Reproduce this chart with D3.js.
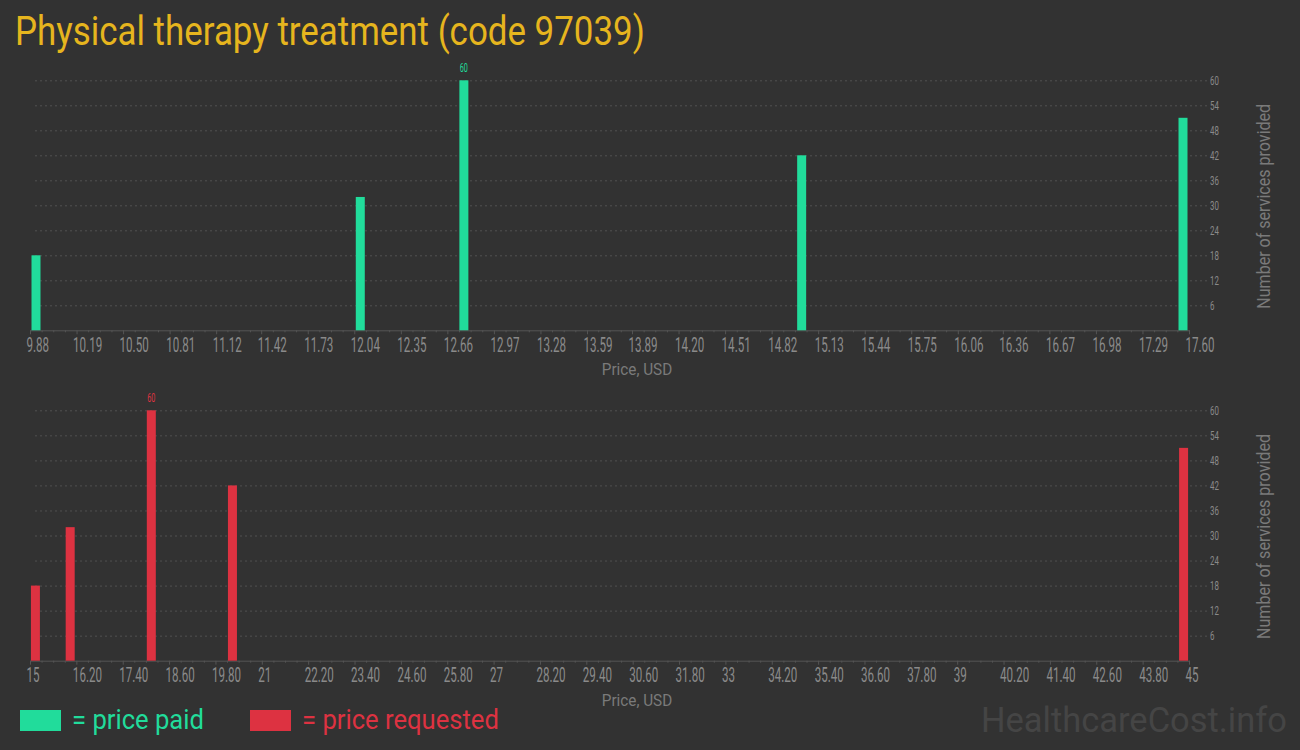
<!DOCTYPE html>
<html>
<head>
<meta charset="utf-8">
<script src="https://cdn.jsdelivr.net/npm/d3@7"></script>
<style>
  html, body { margin: 0; padding: 0; background: #323232; }
  svg { display: block; }
  text { font-family: Roboto, "Noto Sans", sans-serif; }
</style>
</head>
<body>
<svg id="chart" width="1300" height="750"></svg>
<script>
// ---------- data ----------
const chartTitle = "Physical therapy treatment (code 97039)";
const paidPrices = [9.92, 12.08, 12.77, 15.02, 17.56];
const paidCounts = [18, 32, 60, 42, 51];
const requestedPrices = [15.14, 16.04, 18.14, 20.24, 44.86];
const requestedCounts = [18, 32, 60, 42, 51];
const paidTickLabels = ["9.88","10.19","10.50","10.81","11.12","11.42","11.73","12.04","12.35","12.66","12.97","13.28","13.59","13.89","14.20","14.51","14.82","15.13","15.44","15.75","16.06","16.36","16.67","16.98","17.29","17.60"];
const requestedTickLabels = ["15","16.20","17.40","18.60","19.80","21","22.20","23.40","24.60","25.80","27","28.20","29.40","30.60","31.80","33","34.20","35.40","36.60","37.80","39","40.20","41.40","42.60","43.80","45"];
const countTicks = [6, 12, 18, 24, 30, 36, 42, 48, 54, 60];
const xTitle = "Price, USD";
const yTitle = "Number of services provided";
const legendLabels = ["= price paid", "= price requested"];
const watermark = "HealthcareCost.info";

// ---------- styles ----------
const GREEN = "#21dc9b", RED = "#dd3241", GOLD = "#e6b51e";
const AXIS = "#555", GRID = "#505050", TICKTXT = "#8a8a8a", TITLETXT = "#7a7a7a";

const svg = d3.select("#chart");
svg.append("rect").attr("width", 1300).attr("height", 750).attr("fill", "#323232");

// horizontally condense text with a scale transform (keeps x position)
function condense(sel, factor) {
  sel.each(function () {
    const t = d3.select(this);
    const x = +(t.attr("x") || 0);
    t.attr("x", x / factor).attr("transform", `scale(${factor},1)`);
  });
}
function fitWidth(sel, target) {
  sel.each(function () {
    const w = this.getComputedTextLength();
    condense(d3.select(this), target / w);
  });
}

fitWidth(svg.append("text").attr("x", 15).attr("y", 45)
  .attr("fill", GOLD).attr("font-size", 41).text(chartTitle), 630);

function panel(prices, counts, tickLabels, color, y0, y60) {
  const tickVals = tickLabels.map(Number);
  const x = d3.scaleLinear().domain([tickVals[0], tickVals[tickVals.length - 1]]).range([30, 1189]);
  const y = d3.scaleLinear().domain([0, 60]).range([y0, y60]);
  const g = svg.append("g");

  // grid + right labels
  const yAxis = d3.axisRight(y).tickValues(countTicks).tickSize(-1175).tickPadding(3);
  const ga = g.append("g").attr("transform", `translate(1207,0)`).call(yAxis);
  ga.select(".domain").remove();
  ga.selectAll(".tick line").attr("stroke", GRID).attr("stroke-dasharray", "2,3");
  ga.selectAll(".tick text").attr("fill", TICKTXT).attr("font-size", 12.5).attr("font-family", "Roboto");
  condense(ga.selectAll(".tick text"), 0.63);

  // minor ticks
  const minor = [];
  for (let i = 0; i < tickVals.length - 1; i++)
    for (let k = 1; k < 4; k++) minor.push(tickVals[i] + (tickVals[i + 1] - tickVals[i]) * k / 4);
  const gm = g.append("g").attr("transform", `translate(0,${y0})`)
    .call(d3.axisBottom(x).tickValues(minor).tickSize(2).tickFormat(""));
  gm.select(".domain").remove();
  gm.selectAll(".tick line").attr("stroke", AXIS);

  // major axis
  const gx = g.append("g").attr("transform", `translate(0,${y0})`)
    .call(d3.axisBottom(x).tickValues(tickVals).tickSize(4).tickPadding(0)
      .tickFormat((d, i) => tickLabels[i]));
  gx.select(".domain").attr("stroke", AXIS).attr("d", `M30,0.5H1190`);
  gx.selectAll(".tick line").attr("stroke", AXIS);
  gx.selectAll(".tick text").attr("fill", TICKTXT).attr("font-size", 20)
    .attr("font-family", "Roboto").attr("text-anchor", "start").attr("x", -4).attr("y", 21.5).attr("dy", 0);
  condense(gx.selectAll(".tick text"), 0.58);

  // bars
  const data = prices.map((p, i) => ({ p, c: counts[i] }));
  g.selectAll("rect.bar").data(data).join("rect").attr("class", "bar")
    .attr("x", d => x(d.p) - 4.5).attr("width", 9)
    .attr("y", d => y(d.c)).attr("height", d => y0 - y(d.c))
    .attr("fill", color);

  // max label
  const maxC = d3.max(counts);
  const mi = counts.indexOf(maxC);
  const ml = g.append("text").attr("x", x(prices[mi])).attr("y", y(maxC) - 8)
    .attr("text-anchor", "middle").attr("fill", color).attr("font-size", 12).text(maxC);
  condense(ml, 0.6);

  // titles
  const xt = g.append("text").attr("x", 637).attr("y", y0 + 45).attr("text-anchor", "middle")
    .attr("fill", TITLETXT).attr("font-size", 17).text(xTitle);
  condense(xt, 0.9);
  const yt = g.append("text").attr("transform", `translate(1270,${(y0 + y60) / 2 + 1}) rotate(-90)`)
    .attr("text-anchor", "middle").attr("fill", TITLETXT).attr("font-size", 18).text(yTitle);
  const yw = yt.node().getComputedTextLength();
  yt.attr("transform", `translate(1270,${(y0 + y60) / 2 + 1}) rotate(-90) scale(${205 / yw},1)`);
}

panel(paidPrices, paidCounts, paidTickLabels, GREEN, 330.3, 80.3);
panel(requestedPrices, requestedCounts, requestedTickLabels, RED, 660.7, 410.3);

// legend
const legend = [
  { label: legendLabels[0], color: GREEN, x: 20, w: 132 },
  { label: legendLabels[1], color: RED, x: 250, w: 197 }
];
legend.forEach(l => {
  svg.append("rect").attr("x", l.x).attr("y", 710).attr("width", 41).attr("height", 21).attr("fill", l.color);
  fitWidth(svg.append("text").attr("x", l.x + 52).attr("y", 729).attr("fill", l.color).attr("font-size", 27)
    .text(l.label), l.w);
});

fitWidth(svg.append("text").attr("x", 981).attr("y", 732)
  .attr("fill", "#454545").attr("font-size", 36).text(watermark), 306);
</script>
</body>
</html>
